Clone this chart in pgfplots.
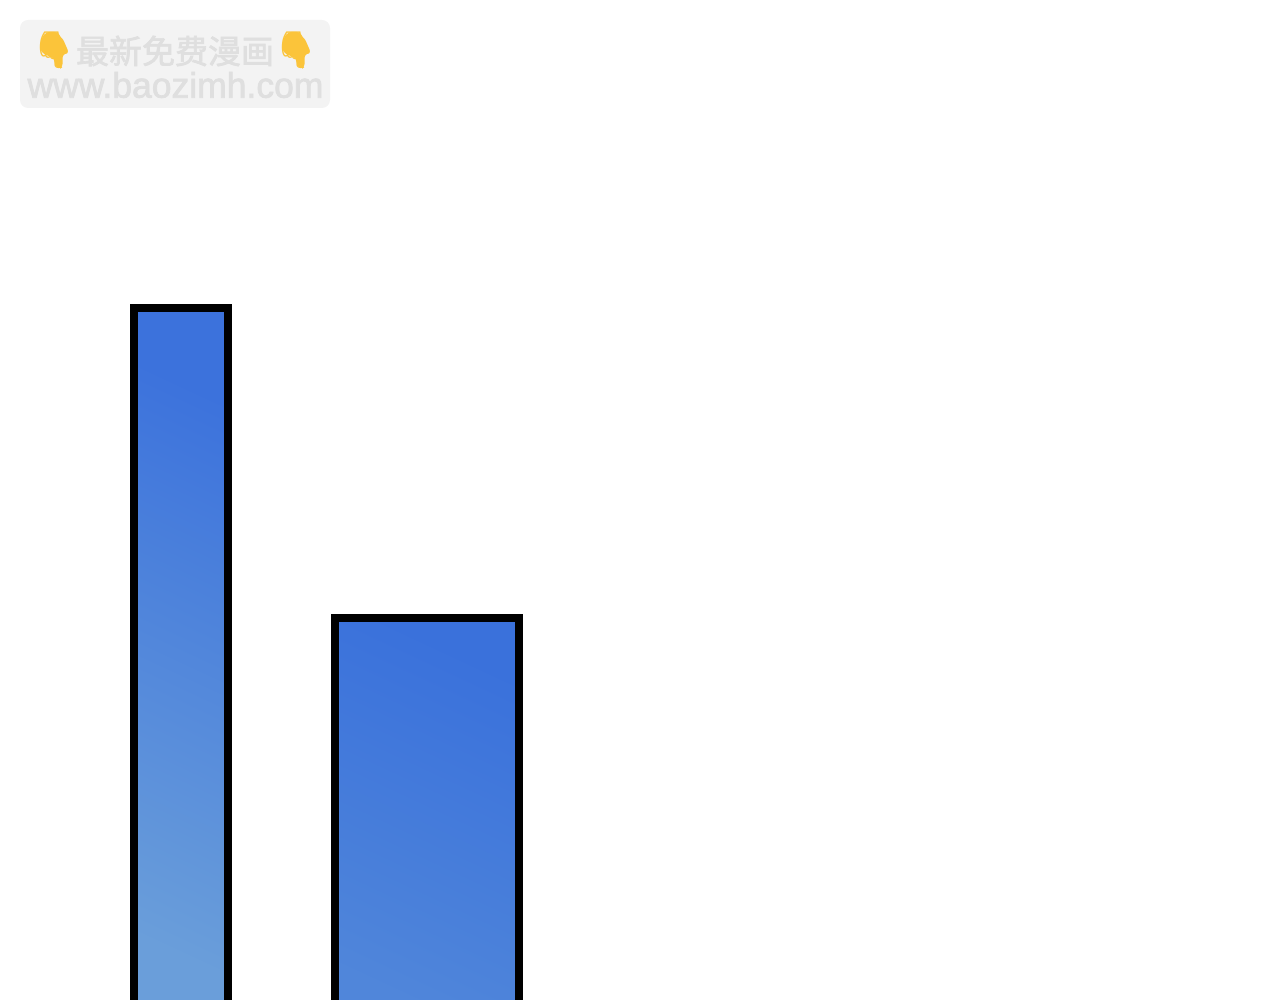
\documentclass[border=0pt]{standalone}
\usepackage{fontspec}
\usepackage{pgfplots}
\pgfplotsset{compat=1.18}
\setmainfont{Liberation Sans}
\newfontfamily\cjk{Noto Sans CJK SC}[FakeBold=2]
\newfontfamily\wmfont{Liberation Sans}[FakeBold=2]
\newfontfamily\emoji{Noto Emoji}
\definecolor{wmbox}{HTML}{F3F3F3}
\definecolor{wmtext}{HTML}{DFDFDF}
\definecolor{hand}{HTML}{FBC43A}
\definecolor{bar1top}{HTML}{3C72DC}
\definecolor{bar1mid}{HTML}{4279DB}
\definecolor{bar1bot}{HTML}{6A9EDA}
\definecolor{bar2top}{HTML}{3A71DB}
\definecolor{bar2mid}{HTML}{3E75DB}
\definecolor{bar2bot}{HTML}{5086DA}
\begin{document}
\begin{tikzpicture}
\useasboundingbox (0,0) rectangle (1280pt,1000pt);
\begin{axis}[
    at={(0,0)}, anchor=south west,
    scale only axis,
    width=1280pt, height=1000pt,
    xmin=0, xmax=1280,
    ymin=0, ymax=1000,
    hide axis,
    clip=true,
]
  % watermark box
  \addplot[fill=wmbox, draw=none, rounded corners=8pt] coordinates {(20,980)(330,980)(330,892)(20,892)} --cycle;

  % hands behind the emoji glyphs
  \addplot[fill=hand, draw=none, rounded corners=3pt] coordinates
    {(41.5,962)(46.5,968)(57.5,968)(63.5,958)(68.5,948)(62.5,945)(62.5,933)(60,931)(56,933)(53,943)(45,945)(40,950)} --cycle;
  \addplot[fill=hand, draw=none, rounded corners=3pt] coordinates
    {(283.5,962)(288.5,968)(299.5,968)(305.5,958)(310.5,948)(304.5,945)(304.5,933)(302,931)(298,933)(295,943)(287,945)(282,950)} --cycle;

  % bars
  \addplot[draw=black, line width=8pt, top color=bar1top, middle color=bar1mid, bottom color=bar1bot, shading angle=-25]
    coordinates {(133.5,-30)(133.5,692)(228,692)(228,-30)} --cycle;
  \addplot[draw=black, line width=8pt, top color=bar2top, middle color=bar2mid, bottom color=bar2bot, shading angle=-25]
    coordinates {(334.5,-30)(334.5,382)(519,382)(519,-30)} --cycle;

  \node[text=wmtext, font=\cjk\fontsize{33}{33}\selectfont, inner sep=0pt] at (axis cs:175,949) {最新免费漫画};
  \node[text=wmtext, font=\wmfont\fontsize{35.5}{35.5}\selectfont, inner sep=0pt] at (axis cs:175.5,915) {www.baozimh.com};
  \node[text=hand, font=\emoji\fontsize{36}{36}\selectfont, inner sep=0pt] at (axis cs:54,950) {👇};
  \node[text=hand, font=\emoji\fontsize{36}{36}\selectfont, inner sep=0pt] at (axis cs:296,950) {👇};
\end{axis}
\end{tikzpicture}
\end{document}
